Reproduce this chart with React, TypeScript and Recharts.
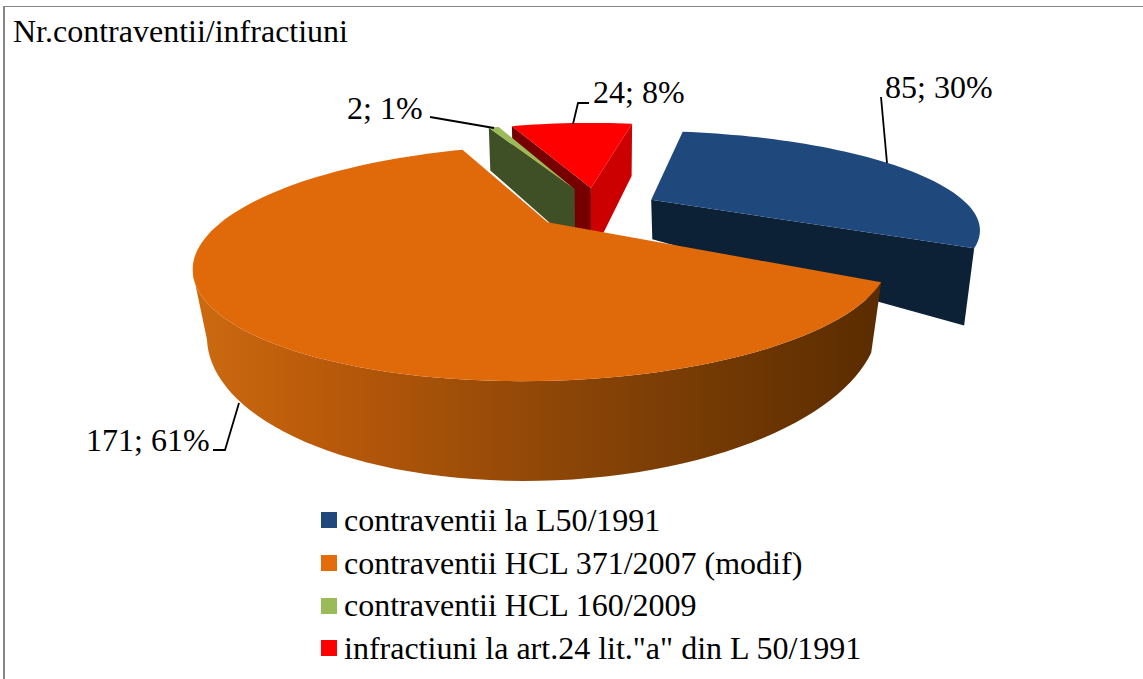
import React from 'react';
import { PieChart, Pie, Legend } from 'recharts';

const categories = ['contraventii la L50/1991', 'contraventii HCL 371/2007 (modif)', 'contraventii HCL 160/2009', 'infractiuni la art.24 lit."a" din L 50/1991'];
const values = [85, 171, 2, 24];
const percentTexts = ['30%', '61%', '1%', '8%'];
const colors = ['#1F497D', '#E46C0A', '#9BBB59', '#FF0000'];
const topColors = ['#1F497D', '#E06A0A', '#9BBB59', '#FF0000'];
const startFaceColors = ['none', 'none', '#3F4F26', '#760000'];
const endFaceColors = ['#0C2036', 'none', 'none', '#CC0000'];
const wallColors = ['none', 'url(#orangeWall)', 'none', 'none'];
const wallRanges = [[0, 0], [0, 246], [0, 0], [0, 0]];
const pieOrder = [2, 3, 0, 1];
const drawFirst = 3;

const labelBoxes = [
  { x: 885, y: 98, line: '881,97 887,163' },
  { x: 86, y: 451, line: '239,403 225,450 213,450' },
  { x: 347, y: 119, line: '430,117 494,128' },
  { x: 593, y: 103, line: '573,124 578,103 589,103' },
];

const pieData = pieOrder.map((i) => ({ name: categories[i], value: values[i], idx: i, fill: colors[i] }));

const FONT = '"Liberation Serif", serif';
const EXPLODE = 0.2;
type Plane = { cx: number; cy: number; r: number; k: number };
const REAR_TOP: Plane = { cx: 596, cy: 205.5, r: 302, k: 92 };
const topPlanes: Plane[] = [{ cx: 595, cy: 207.5, r: 319, k: 92 }, { cx: 596, cy: 209, r: 312, k: 95 }, REAR_TOP, REAR_TOP];
const bottomPlanes: Plane[] = [
  { cx: 598, cy: 253, r: 308, k: 164 },
  { cx: 596, cy: 258, r: 301, k: 123 },
  { cx: 596, cy: 265, r: 298, k: 112 },
  { cx: 596, cy: 280, r: 298, k: 117 },
];
const perspectives = [0.28, 0.33, 0.28, 0.28];

type P = [number, number];
const rad = (a: number) => (a * Math.PI) / 180;
const project = (pl: Plane, p: number, u: number, v: number): P => {
  const s = 1 / (1 - p * v);
  return [pl.cx + pl.r * u * s, pl.cy + pl.k * v * s];
};
const rim = (pl: Plane, p: number, a: number, mid: number): P =>
  project(pl, p, Math.sin(rad(a)) + EXPLODE * Math.sin(rad(mid)), -Math.cos(rad(a)) - EXPLODE * Math.cos(rad(mid)));
const apex = (pl: Plane, p: number, mid: number): P => project(pl, p, EXPLODE * Math.sin(rad(mid)), -EXPLODE * Math.cos(rad(mid)));
const d = (pts: P[]) => 'M' + pts.map((q) => q[0].toFixed(1) + ',' + q[1].toFixed(1)).join('L') + 'Z';

function Slice3D(props: any) {
  const idx = props.payload?.idx ?? props.idx;
  const only = props.layer === 'first' ? idx === drawFirst : idx !== drawFirst;
  if (!only) return <g />;
  const a1 = 90 - props.startAngle;
  const a2 = 90 - props.endAngle;
  const mid = (a1 + a2) / 2;
  const steps = Math.max(2, Math.ceil((a2 - a1) / 2));
  const as = Array.from({ length: steps + 1 }, (_, i) => a1 + ((a2 - a1) * i) / steps);
  const T = topPlanes[idx];
  const B = bottomPlanes[idx];
  const p = perspectives[idx];
  const topArc = as.map((a) => rim(T, p, a, mid));
  const c1 = apex(T, p, mid);
  const c2 = apex(B, p, mid);
  const [wMin, wMax] = wallRanges[idx];
  const wallAngles = as.filter((a) => a >= wMin && a <= wMax);
  const wallTop = wallAngles.map((a) => rim(T, p, a, mid));
  const wallBot = wallAngles.map((a) => rim(B, p, a, mid));
  return (
    <g>
      <path d={d([c1, rim(T, p, a1, mid), rim(B, p, a1, mid), c2])} fill={startFaceColors[idx]} />
      <path d={d([c1, rim(T, p, a2, mid), rim(B, p, a2, mid), c2])} fill={endFaceColors[idx]} />
      {wallAngles.length > 1 && <path d={d([...wallTop, ...[...wallBot].reverse()])} fill={wallColors[idx]} />}
      <path d={d([c1, ...topArc])} fill={topColors[idx]} />
    </g>
  );
}

function SliceLabel(props: any) {
  const idx = props.payload?.idx ?? props.idx;
  const box = labelBoxes[idx];
  return (
    <g>
      <polyline points={box.line} fill="none" stroke="#000" strokeWidth={1.8} />
      <text x={box.x} y={box.y} fontFamily={FONT} fontSize={32} fill="#000">
        {values[idx] + '; ' + percentTexts[idx]}
      </text>
    </g>
  );
}

function LegendList() {
  return (
    <div style={{ fontFamily: FONT, fontSize: 32, color: '#000', whiteSpace: 'nowrap' }}>
      {categories.map((c, i) => (
        <div key={c} style={{ display: 'flex', alignItems: 'center', height: 42.7 }}>
          <span style={{ display: 'inline-block', width: 16, height: 16, background: colors[i], marginRight: 7 }} />
          <span>{c}</span>
        </div>
      ))}
    </div>
  );
}

export default function App() {
  const common = {
    data: pieData,
    dataKey: 'value',
    nameKey: 'name',
    cx: 596,
    cy: 208,
    outerRadius: 300,
    startAngle: 113,
    endAngle: -247,
    stroke: 'none',
    isAnimationActive: false,
    labelLine: false,
  };
  return (
    <div style={{ position: 'absolute', left: 0, top: 0, width: 1143, height: 679, background: '#fff', overflow: 'hidden' }}>
      <div style={{ position: 'absolute', left: 3, top: 6, width: 1140, height: 673, borderLeft: '2px solid #868686', borderTop: '1.5px solid #868686', boxSizing: 'border-box' }} />
      <div style={{ position: 'absolute', left: 13, top: 13, fontFamily: FONT, fontSize: 32, lineHeight: '36px', color: '#000' }}>
        Nr.contraventii/infractiuni
      </div>
      <PieChart width={1143} height={679} margin={{ top: 0, right: 0, bottom: 0, left: 0 }} style={{ position: 'absolute', left: 0, top: 0 }}>
        <defs>
          <linearGradient id="orangeWall" gradientUnits="userSpaceOnUse" x1={195} y1={0} x2={880} y2={0}>
            <stop offset="0" stopColor="#CC6A10" />
            <stop offset="0.2" stopColor="#B8590A" />
            <stop offset="0.55" stopColor="#8A4507" />
            <stop offset="1" stopColor="#5A2C00" />
          </linearGradient>
        </defs>
        <Pie {...common} shape={(p: any) => <Slice3D {...p} layer="first" />} />
        <Pie {...common} shape={(p: any) => <Slice3D {...p} layer="rest" />} label={(p: any) => <SliceLabel {...p} />} />
        <Legend content={() => <LegendList />} layout="vertical" wrapperStyle={{ left: 321, top: 499, width: 700, bottom: 'auto', right: 'auto' }} />
      </PieChart>
    </div>
  );
}
